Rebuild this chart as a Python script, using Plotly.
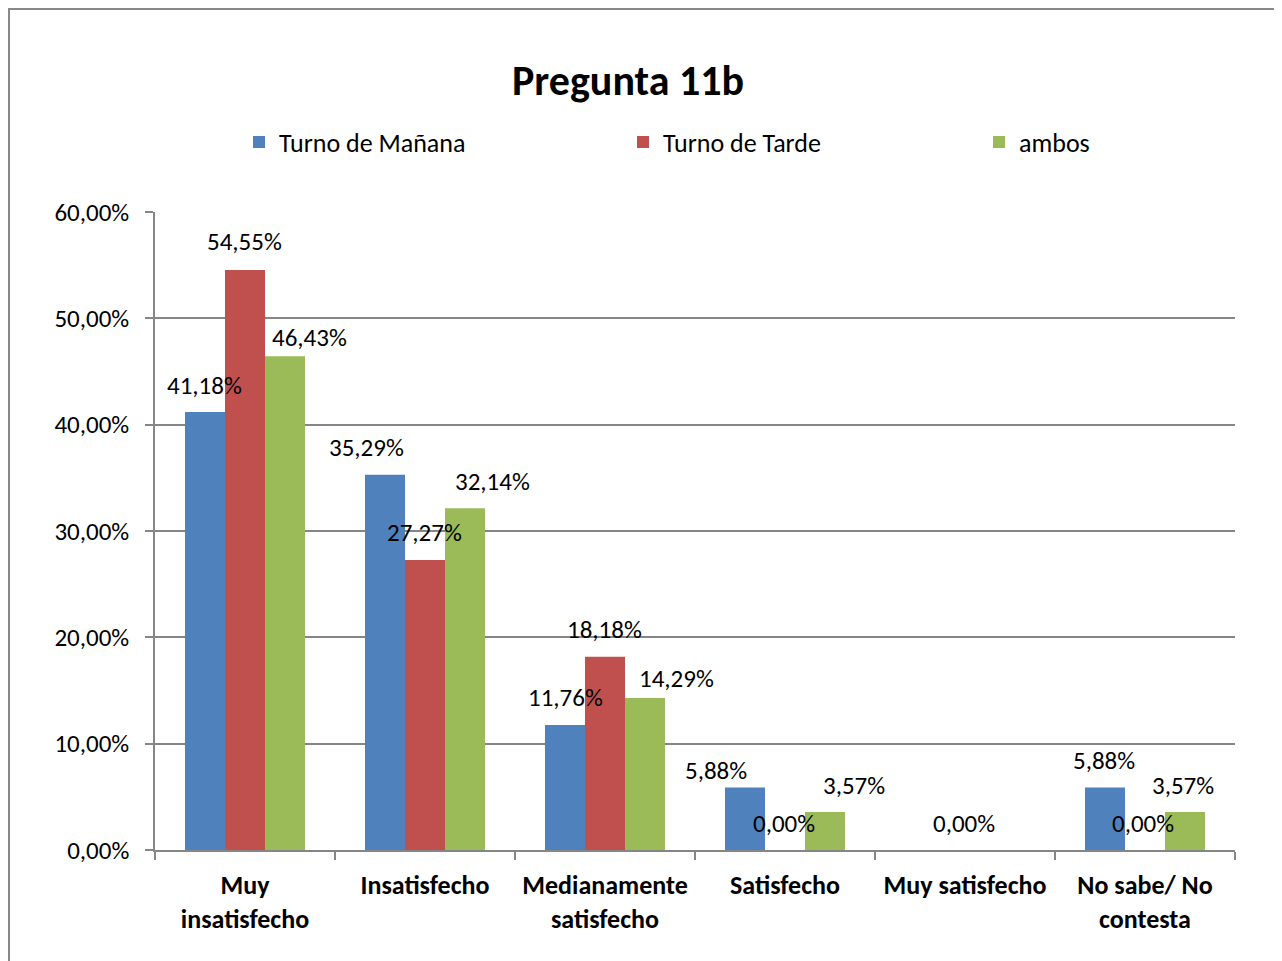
import plotly.graph_objects as go

categories = ["Muy<br>insatisfecho", "Insatisfecho", "Medianamente<br>satisfecho",
              "Satisfecho", "Muy satisfecho", "No sabe/ No<br>contesta"]
series_names = ["Turno de Mañana", "Turno de Tarde", "ambos"]
manana = [0.4118, 0.3529, 0.1176, 0.0588, 0.0, 0.0588]
tarde = [0.5455, 0.2727, 0.1818, 0.0, 0.0, 0.0]
ambos = [0.4643, 0.3214, 0.1429, 0.0357, 0.0, 0.0357]
y_ticks = [0, 0.1, 0.2, 0.3, 0.4, 0.5, 0.6]

colors = ["#4F81BD", "#C0504D", "#9BBB59"]
series_vals = [manana, tarde, ambos]

# label offsets (pixels) relative to bar top-centre, mimicking the Excel layout
label_dx = [
    [-1, -19, 0, -29, None, -1],
    [-1, -1, -1, -1, -1, -2],
    [24, 27, 31, 29, None, -2],
]
label_dy = [
    [27, 27, 27, 17, None, 27],
    [28, 28, 27, 27, 27, 27],
    [19, 27, 20, 27, None, 27],
]

FONT = "Carlito, Lato, 'Liberation Sans', sans-serif"

# page is drawn with an 8px offset; figure coordinates below account for that
W, H = 1274, 953
L, R, T, B = 147, 47, 204, 111
PW, PH = W - L - R, H - T - B


def px_x(px):
    return (px - 8 - L) / PW


def px_y(py):
    return 1 + (T - (py - 8)) / PH


fig = go.Figure()
legend_ids = ["legend", "legend2", "legend3"]
for i, (name, vals) in enumerate(zip(series_names, series_vals)):
    fig.add_trace(go.Bar(
        x=categories, y=vals, name=name,
        marker=dict(color=colors[i], line=dict(width=0)),
        offsetgroup=str(i), legend=legend_ids[i],
        hoverinfo="skip",
    ))

n = len(series_names)
bargap = 1 / 3
bw = (1 - bargap) / n
for i, vals in enumerate(series_vals):
    off = (i - (n - 1) / 2) * bw
    for j, v in enumerate(vals):
        if label_dx[i][j] is None:
            continue
        fig.add_annotation(
            x=j + off, y=v, xref="x", yref="y",
            text=f"{v*100:.2f}%".replace(".", ","),
            showarrow=False, xanchor="center", yanchor="middle",
            xshift=label_dx[i][j], yshift=label_dy[i][j],
            font=dict(family=FONT, size=25, color="#000000"),
        )

# outer chart border
fig.add_shape(type="rect", xref="paper", yref="paper",
              x0=px_x(9), x1=px_x(1300), y0=px_y(990), y1=px_y(9),
              line=dict(color="#898989", width=2), fillcolor="rgba(0,0,0,0)",
              layer="below")

leg_common = dict(orientation="h", yanchor="middle", xanchor="left",
                  font=dict(family=FONT, size=26, color="#000000"),
                  bgcolor="rgba(0,0,0,0)", itemwidth=30,
                  y=px_y(142))
legend_sq_px = [253, 637, 993]

fig.update_layout(
    width=W, height=H,
    margin=dict(l=L, r=R, t=T, b=B),
    paper_bgcolor="white", plot_bgcolor="white",
    separators=",.",
    barmode="group", bargap=bargap, bargroupgap=0,
    title=dict(text="<b>Pregunta 11b</b>", x=(628 - 8) / W, xref="container",
               xanchor="center", y=1 - (80 - 8) / H, yref="container", yanchor="middle",
               font=dict(family=FONT, size=42, color="#000000")),
    legend=dict(x=px_x(legend_sq_px[0] - 14), **leg_common),
    legend2=dict(x=px_x(legend_sq_px[1] - 14), **leg_common),
    legend3=dict(x=px_x(legend_sq_px[2] - 14), **leg_common),
    showlegend=True,
    xaxis=dict(
        showline=True, linecolor="#868686", linewidth=1.5,
        ticks="outside", tickson="boundaries", ticklen=8, tickcolor="#868686", tickwidth=1.5,
        tickfont=dict(family=FONT, size=26, color="#000000", weight="bold"),
        ticklabelstandoff=11,
        showgrid=False, fixedrange=True,
    ),
    yaxis=dict(
        range=[0, 0.6], tickvals=y_ticks, tickformat=".2%",
        showline=True, linecolor="#868686", linewidth=1.5,
        ticks="outside", ticklen=8, tickcolor="#868686", tickwidth=1.5,
        showgrid=True, gridcolor="#868686", gridwidth=1.5,
        tickfont=dict(family=FONT, size=25, color="#000000"),
        ticklabelstandoff=11, zeroline=False, fixedrange=True,
    ),
)

fig.write_html("out.html")
